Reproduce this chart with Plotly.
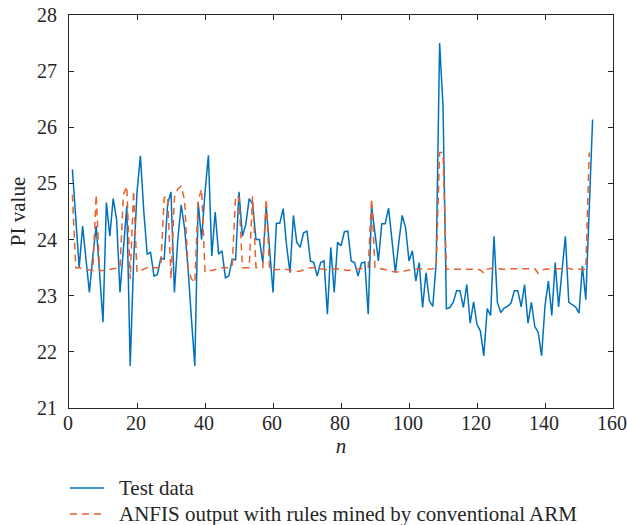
import plotly.graph_objects as go

test_data = [
    25.25, 24.3, 23.5, 24.24, 23.6, 23.06, 23.7, 24.24, 23.4, 22.53,
    24.66, 24.06, 24.73, 24.36, 23.06, 23.9, 24.6, 21.75, 23.6, 24.84,
    25.49, 24.5, 23.74, 23.77, 23.35, 23.38, 23.67, 23.65, 24.63, 24.85,
    23.06, 24.0, 24.62, 24.2, 23.5, 22.6, 21.75, 24.66, 24.0, 24.84,
    25.5, 23.71, 24.49, 23.74, 23.8, 23.32, 23.35, 23.65, 23.64, 24.85,
    24.06, 24.27, 24.73, 24.63, 24.0, 24.0, 23.59, 24.6, 23.89, 23.06,
    24.29, 24.29, 24.55, 23.89, 23.41, 24.43, 23.95, 23.86, 24.12, 24.15,
    23.62, 23.59, 23.35, 23.59, 23.62, 22.67, 23.86, 23.06, 23.95, 23.89,
    24.14, 24.15, 23.62, 23.59, 23.35, 23.58, 23.6, 22.67, 24.6, 24.06,
    23.62, 24.28, 24.28, 24.56, 24.0, 23.41, 23.95, 24.43, 24.21, 23.62,
    23.8, 23.26, 23.59, 22.79, 23.41, 22.91, 22.81, 23.59, 27.5, 26.38,
    22.77, 22.79, 22.88, 23.09, 23.09, 22.79, 23.2, 22.51, 22.89, 22.49,
    22.37, 21.93, 22.77, 22.65, 24.06, 22.88, 22.7, 22.78, 22.81, 22.87,
    23.09, 23.09, 22.8, 23.2, 22.51, 22.88, 22.45, 22.35, 21.93, 22.82,
    23.26, 22.65, 23.59, 22.8, 23.44, 24.06, 22.88, 22.84, 22.8, 22.69,
    23.53, 22.93, 24.6, 26.14,
]

anfis_arm = [
    24.8, 23.5, 23.5, 23.48, 23.47, 23.46, 23.45, 24.8, 23.45, 23.45,
    23.46, 23.47, 23.48, 23.5, 23.5, 24.8, 24.95, 23.3, 24.87, 23.42,
    23.45, 23.48, 23.5, 23.52, 23.5, 23.5, 23.52, 24.75, 24.77, 23.3,
    24.75, 24.9, 24.95, 24.7, 23.5, 23.3, 23.23, 24.7, 24.9, 23.42,
    23.45, 23.45, 23.47, 23.48, 23.5, 23.5, 23.5, 23.52, 24.78, 24.75,
    23.5, 23.5, 23.5, 24.77, 23.5, 23.5, 23.5, 24.73, 23.47, 23.46,
    23.46, 23.47, 23.48, 23.47, 23.45, 23.44, 23.43, 23.44, 23.46, 23.48,
    23.5, 23.5, 23.49, 23.47, 23.46, 23.46, 23.47, 23.48, 23.48, 23.47,
    23.46, 23.45, 23.46, 23.47, 23.48, 23.49, 23.5, 23.5, 24.73, 23.5,
    23.49, 23.48, 23.47, 23.45, 23.43, 23.42, 23.42, 23.43, 23.45, 23.46,
    23.47, 23.47, 23.47, 23.47, 23.48, 23.48, 23.48, 23.5, 25.55, 25.55,
    23.47, 23.47, 23.47, 23.48, 23.48, 23.48, 23.48, 23.48, 23.47, 23.47,
    23.46, 23.4, 23.47, 23.48, 23.5, 23.48, 23.47, 23.47, 23.48, 23.48,
    23.48, 23.48, 23.47, 23.47, 23.48, 23.48, 23.48, 23.4, 23.46, 23.47,
    23.48, 23.48, 23.48, 23.48, 23.48, 23.5, 23.48, 23.47, 23.47, 23.47,
    23.47, 23.47, 25.55,
]

n_test = list(range(1, len(test_data) + 1))
n_anfis = list(range(1, len(anfis_arm) + 1))

x_ticks = [0, 20, 40, 60, 80, 100, 120, 140, 160]
y_ticks = [21, 22, 23, 24, 25, 26, 27, 28]

series_names = ["Test data", "ANFIS output with rules mined by conventional ARM"]
series_colors = ["#0072BD", "#E8602C"]
series_dash = ["solid", "7px,5px"]

FONT = "Liberation Serif"
AX = "#262626"
FS = 21

W, H = 627, 525
L, R, T, B = 69, 14, 15, 117
PW, PH = W - L - R, H - T - B

def px_x(px):
    return (px - L) / PW

def px_y(py):
    return (H - B - py) / PH

fig = go.Figure()
fig.add_trace(go.Scatter(
    x=n_test, y=test_data, mode="lines", name=series_names[0],
    line=dict(color=series_colors[0], width=1.5, dash=series_dash[0]),
    showlegend=False,
))
fig.add_trace(go.Scatter(
    x=n_anfis, y=anfis_arm, mode="lines", name=series_names[1],
    line=dict(color=series_colors[1], width=1.5, dash=series_dash[1]),
    showlegend=False,
))

# legend drawn below the axes
legend_rows = [488, 514]
for name, col, dsh, row in zip(series_names, series_colors, series_dash, legend_rows):
    fig.add_shape(
        type="line", xref="paper", yref="paper",
        x0=px_x(70), x1=px_x(104), y0=px_y(row), y1=px_y(row),
        line=dict(color=col, width=1.5, dash=dsh),
    )
    fig.add_annotation(
        xref="paper", yref="paper", x=px_x(117), y=px_y(row),
        xanchor="left", yanchor="middle", text=name, showarrow=False,
        font=dict(family=FONT, size=FS, color="#262626"),
    )

fig.update_layout(
    width=W, height=H,
    margin=dict(l=L, r=R, t=T, b=B),
    paper_bgcolor="white", plot_bgcolor="white",
    font=dict(family=FONT, size=FS, color="#262626"),
    showlegend=False,
    hovermode=False,
)
fig.update_xaxes(
    range=[0, 160], tickvals=x_ticks, ticktext=[str(v) for v in x_ticks],
    ticks="inside", ticklen=5, tickcolor=AX, tickwidth=1,
    showline=True, linecolor=AX, linewidth=1, mirror="ticks",
    showgrid=False, zeroline=False, automargin=False,
    tickfont=dict(family=FONT, size=20),
    title=dict(text="<i>n</i>", standoff=5, font=dict(family=FONT, size=FS)),
    ticklabelstandoff=-3, ticklabelshift=-1, ticklabeloverflow="allow",
)
fig.update_yaxes(
    range=[21, 28], tickvals=y_ticks, ticktext=[str(v) for v in y_ticks],
    ticks="inside", ticklen=5, tickcolor=AX, tickwidth=1,
    showline=True, linecolor=AX, linewidth=1, mirror="ticks",
    showgrid=False, zeroline=False, automargin=False,
    tickfont=dict(family=FONT, size=20),
    title=dict(text="PI value", standoff=5, font=dict(family=FONT, size=FS)),
    ticklabelstandoff=7, ticklabeloverflow="allow",
)

fig.write_html(
    "out.html",
    config={"displayModeBar": False, "staticPlot": True},
    post_script="document.body.style.margin='0';document.body.style.overflow='hidden';",
)
